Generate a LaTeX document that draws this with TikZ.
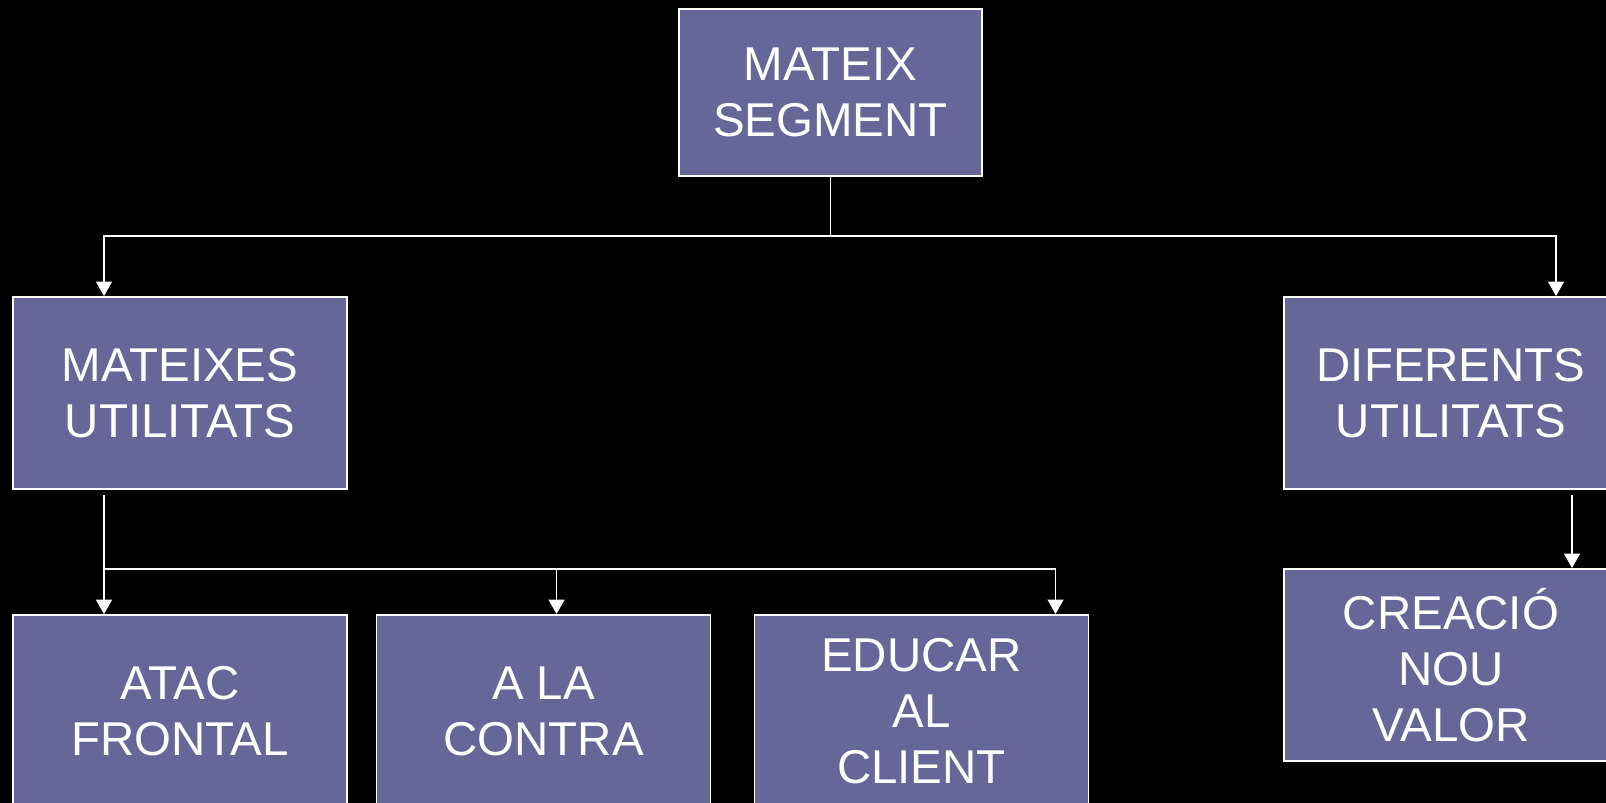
\documentclass[tikz,border=0pt]{standalone}
\usepackage{fontspec}
\setmainfont{Liberation Sans}
\usetikzlibrary{positioning}
\usetikzlibrary{arrows.meta}
\definecolor{boxfill}{HTML}{666699}
\tikzset{
    mybox/.style = {rectangle, draw=white, line width=1.1pt, fill=boxfill, text=white, align=center, inner sep=0pt,
                    minimum width=6.68cm, minimum height=3.84cm, font=\fontsize{27}{31.8}\selectfont},
    mytop/.style = {mybox, minimum width=6.06cm, minimum height=3.34cm},
    linew/.style = {draw=white, line width=0.85pt},
    edgew/.style = {linew, -{Triangle[width=0.32cm,length=0.29cm]}},
}
\begin{document}
\begin{tikzpicture}[scale=1.00,transform shape]
\fill[black] (0,0) rectangle (32.12,16.06);
\useasboundingbox (0,0) rectangle (32.12,16.06);
%
\node[mytop] at (16.61, 14.21) (ms) {MATEIX\\SEGMENT};
\node[mybox] at (3.60, 8.20) (mu) {MATEIXES\\UTILITATS};
\node[mybox] at (29.02, 8.20) (du) {DIFERENTS\\UTILITATS};
\node[mybox] at (29.02, 2.76) (cr) {CREACIÓ\\NOU\\VALOR};
\node[mybox] at (3.60, 1.84) (at) {ATAC\\FRONTAL};
\node[mybox] at (10.87, 1.84) (ac) {A LA\\CONTRA};
\node[mybox] at (18.43, 1.84) (ed) {EDUCAR\\AL\\CLIENT};
%
\coordinate (j1) at (16.61, 11.34);
\coordinate (j2) at (2.08, 4.68);
\coordinate (j3) at (31.44, 4.68);
%
\draw[linew] (ms) -- (j1);
\draw[edgew] (j1) -| (j2 |- mu.north);
\draw[edgew] (j1) -| ([xshift=5.46cm]du.north west);
\draw[linew, shorten <=0.1cm] (j2 |- mu.south) -- (j2);
\draw[edgew] (j2) -- (j2 |- at.north);
\draw[edgew] (j2) -| ([xshift=3.62cm]ac.north west);
\draw[edgew] (j2) -| ([xshift=6.04cm]ed.north west);
\draw[edgew, shorten <=0.1cm] (j3 |- du.south) -- (j3 |- cr.north);

\end{tikzpicture}
\end{document}
